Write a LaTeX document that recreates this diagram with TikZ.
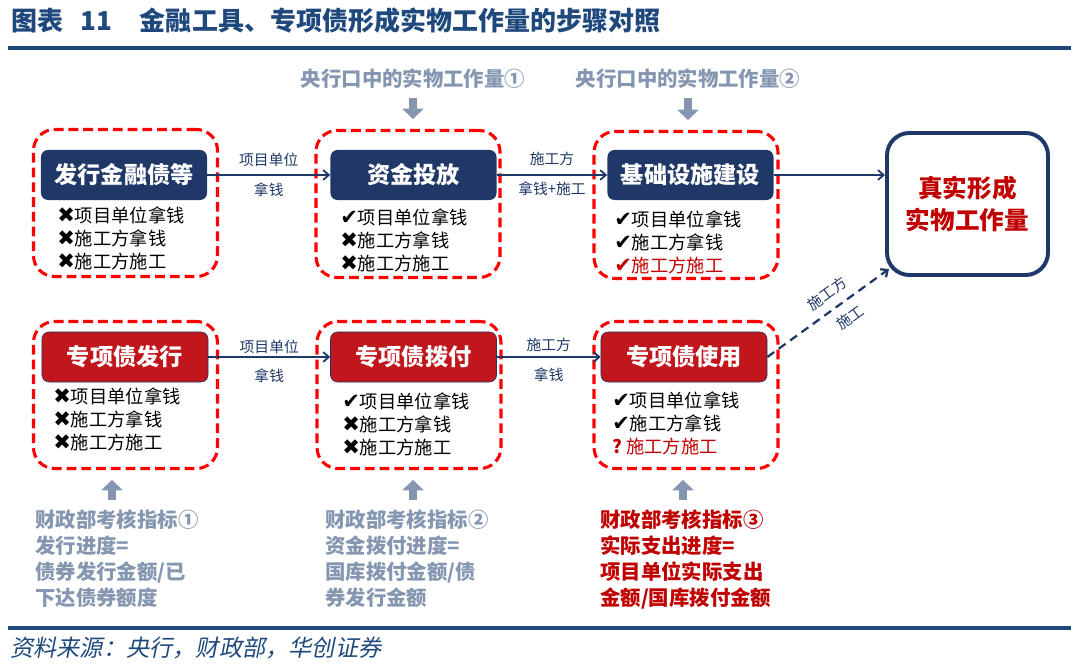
\documentclass[tikz,border=0pt]{standalone}
\usepackage{fontspec}
\setmainfont{Noto Sans CJK SC}
\newfontfamily\symfont{DejaVu Sans}
\newfontfamily\srcfont{Noto Sans CJK SC}[FakeSlant=0.2]
\usetikzlibrary{arrows.meta,positioning}
\definecolor{titleblue}{RGB}{31,73,125}
\definecolor{navy}{RGB}{31,56,104}
\definecolor{boxred}{RGB}{192,22,28}
\definecolor{txtred}{RGB}{192,0,0}
\definecolor{graybl}{RGB}{132,150,176}
\newcommand{\yes}{{\symfont\fontsize{15}{16.6}\selectfont ✔}}
\newcommand{\no}{{\symfont\fontsize{15}{16.6}\selectfont ✖}}
\tikzset{
  grp/.style={draw=red,line width=2.2pt,dash pattern=on 7pt off 3.5pt,rounded corners=15pt,
    minimum width=4.6cm,minimum height=3.675cm},
  head/.style={rounded corners=5pt,text=white,font=\bfseries\fontsize{16.5}{18}\selectfont,
    minimum width=4.15cm,minimum height=1.25cm,inner sep=0pt},
  headb/.style={head,fill=navy},
  headr/.style={head,fill=boxred,draw=navy,thin},
  items/.style={anchor=north west,align=left,inner sep=0pt,font=\fontsize{13}{16.6}\selectfont},
  fl/.style={-{Straight Barb[length=4pt,width=7pt]},navy,line width=1.3pt},
  dfl/.style={fl,dash pattern=on 6pt off 4pt,line width=1.6pt},
  lbl/.style={font=\fontsize{10.5}{12}\selectfont,inner sep=1pt},
  blk/.style={graybl,line width=6pt,-{Triangle[width=15pt,length=7.5pt]}},
  note/.style={anchor=north west,align=left,inner sep=0pt,text=graybl,
    font=\bfseries\fontsize{14.5}{18.3}\selectfont},
  rule/.style={titleblue,line width=2.2pt},
}
\begin{document}
\begin{tikzpicture}[x=0.025cm,y=-0.025cm]
  \useasboundingbox (0,0) rectangle (1080,669);
  % title and rules
  \node[anchor=west,inner sep=0pt,text=titleblue,font=\bfseries\fontsize{18.5}{22}\selectfont] (ttl) at (11,21)
    {图表\hspace{12pt}11\hspace{20pt}金融工具、专项债形成实物工作量的步骤对照};
  \draw[rule] (8,48) -- (1071,48);
  \draw[rule] (8,628) -- (1071,628);
  \node[anchor=west,inner sep=0pt,text=titleblue,font=\srcfont\fontsize{16.5}{18}\selectfont] (src) at (10,648)
    {资料来源：央行，财政部，华创证券};
  % dashed groups
  \node[grp] (dash1) at (125.5,203) {};
  \node[grp] (dash2) at (408,204) {};
  \node[grp] (dash3) at (686,205) {};
  \node[grp] (dash4) at (125.5,395) {};
  \node[grp] (dash5) at (409,395) {};
  \node[grp] (dash6) at (686,395) {};
  % heads
  \node[headb] (h1) at (124,175) {发行金融债等};
  \node[headb] (h2) at (413.5,175) {资金投放};
  \node[headb] (h3) at (690.5,175) {基础设施建设};
  \node[headr] (h4) at (125,357) {专项债发行};
  \node[headr] (h5) at (413.5,357) {专项债拨付};
  \node[headr] (h6) at (684,357) {专项债使用};
  % item lists
  \node[items] (it1) at (57,206) {\no 项目单位拿钱\\\no 施工方拿钱\\\no 施工方施工};
  \node[items] (it2) at (340,208) {\yes 项目单位拿钱\\\no 施工方拿钱\\\no 施工方施工};
  \node[items] (it3) at (614,210) {\yes 项目单位拿钱\\\yes 施工方拿钱\\\textcolor{txtred}{\yes 施工方施工}};
  \node[items] (it4) at (53,387) {\no 项目单位拿钱\\\no 施工方拿钱\\\no 施工方施工};
  \node[items] (it5) at (342,392) {\yes 项目单位拿钱\\\no 施工方拿钱\\\no 施工方施工};
  \node[items] (it6) at (612,391) {\yes 项目单位拿钱\\\yes 施工方拿钱\\\textcolor{txtred}{\textbf{?}\ 施工方施工}};
  % goal
  \node[draw=navy,line width=2.8pt,rounded corners=16pt,minimum width=4.025cm,minimum height=3.55cm,
    align=center,text=txtred,font=\bfseries\fontsize{17.5}{23}\selectfont] (goal) at (967.5,204)
    {真实形成\\实物工作量};
  % flows
  \draw[fl] (h1) -- node[lbl,above=4pt]{项目单位} node[lbl,below=4pt]{拿钱} (h2);
  \draw[fl] (h2) -- node[lbl,above=5pt]{施工方} node[lbl,below=3pt]{拿钱+施工} (h3);
  \draw[fl] (h3) -- (h3 -| goal.west);
  \draw[fl] (h4) -- node[lbl,above=1pt]{项目单位} node[lbl,below=7pt]{拿钱} (h5);
  \draw[fl] (h5) -- node[lbl,above=2pt]{施工方} node[lbl,below=6pt]{拿钱} (h6);
  \draw[dfl] (h6.east) -- node[lbl,sloped,above=5pt,pos=0.57]{施工方} node[lbl,sloped,below=5pt,pos=0.6]{施工}
    ([shift={(4,-8)}]goal.south west);
  % central bank
  \node[text=graybl,font=\bfseries\fontsize{14.5}{17}\selectfont,inner sep=0pt] (cb1) at (413,79) {央行口中的实物工作量①};
  \node[text=graybl,font=\bfseries\fontsize{14.5}{17}\selectfont,inner sep=0pt] (cb2) at (688,79) {央行口中的实物工作量②};
  \draw[blk,shorten <=6pt,shorten >=7pt] (cb1.south) -- (cb1.south |- dash2.north);
  \draw[blk,shorten <=6pt,shorten >=7pt] (cb2.south) -- (cb2.south |- dash3.north);
  % ministry of finance
  \node[note] (mf1) at (35,510) {财政部考核指标①\\发行进度=\\债券发行金额/已\\下达债券额度};
  \node[note] (mf2) at (325,510) {财政部考核指标②\\资金拨付进度=\\国库拨付金额/债\\券发行金额};
  \node[note,text=txtred] (mf3) at (600,510) {财政部考核指标③\\实际支出进度=\\项目单位实际支出\\金额/国库拨付金额};
  \coordinate (up1) at (112,0);
  \coordinate (up2) at (413,0);
  \coordinate (up3) at (683,0);
  \draw[blk,shorten <=7pt,shorten >=7pt] (mf1.north -| up1) -- (dash4.south -| up1);
  \draw[blk,shorten <=7pt,shorten >=7pt] (mf2.north -| up2) -- (dash5.south -| up2);
  \draw[blk,shorten <=7pt,shorten >=7pt] (mf3.north -| up3) -- (dash6.south -| up3);
\end{tikzpicture}
\end{document}
